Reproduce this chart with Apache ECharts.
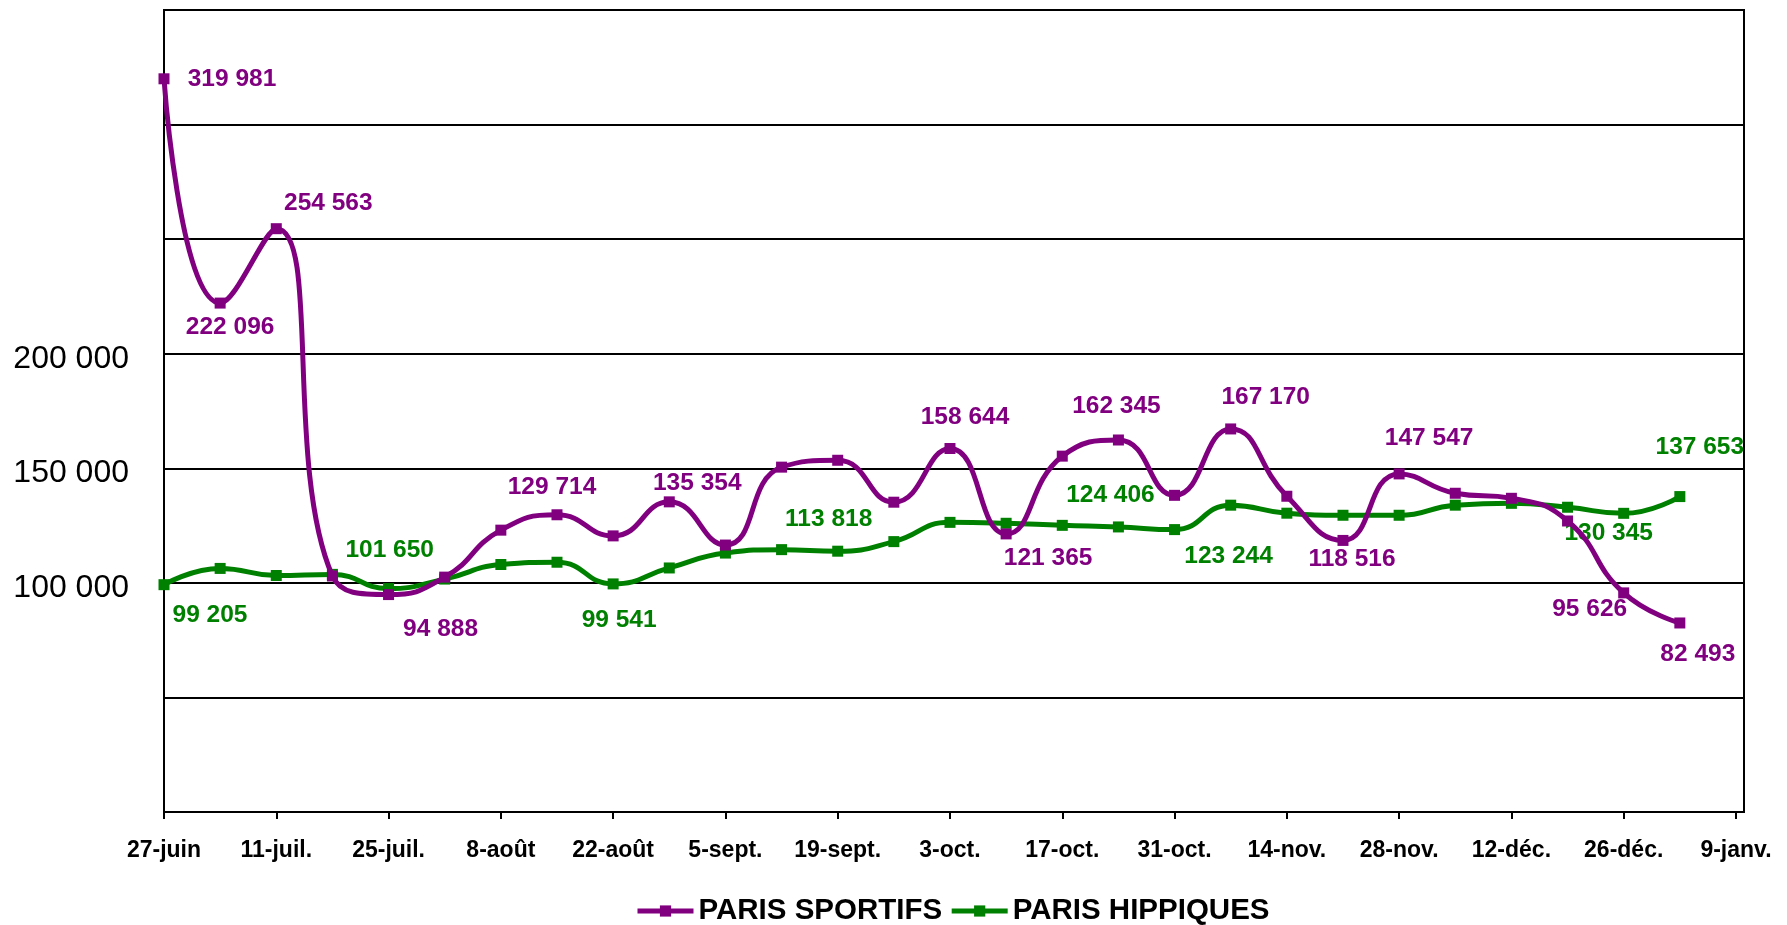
<!DOCTYPE html>
<html><head><meta charset="utf-8">
<script src="https://cdn.jsdelivr.net/npm/echarts@6/dist/echarts.min.js"></script>
<style>html,body{margin:0;padding:0;background:#fff}#c{width:1787px;height:925px}</style>
</head><body><div id="c"></div>
<script>
// Weekly data points
const weekDates = ['2010-06-27','2010-07-04','2010-07-11','2010-07-18','2010-07-25','2010-08-01','2010-08-08','2010-08-15','2010-08-22','2010-08-29','2010-09-05','2010-09-12','2010-09-19','2010-09-26','2010-10-03','2010-10-10','2010-10-17','2010-10-24','2010-10-31','2010-11-07','2010-11-14','2010-11-21','2010-11-28','2010-12-05','2010-12-12','2010-12-19','2010-12-26','2011-01-02'];
const parisSportifs = [319981,222096,254563,103000,94888,102500,123000,129714,120500,135354,116500,150500,153500,135200,158644,121365,155300,162345,138200,167170,137800,118516,147547,139100,136900,127000,95626,82493];
const parisHippiques = [99205,106300,103200,103700,97500,101650,108000,109000,99541,106500,113000,114500,113818,118000,126400,126000,125100,124406,123244,133900,130400,129500,129500,133900,134700,133000,130345,137653];
const xTickLabels = ['27-juin','11-juil.','25-juil.','8-août','22-août','5-sept.','19-sept.','3-oct.','17-oct.','31-oct.','14-nov.','28-nov.','12-déc.','26-déc.','9-janv.'];
const yTickLabels = [100000,150000,200000];
const seriesNames = ['PARIS SPORTIFS','PARIS HIPPIQUES'];

// label placement (pixel offsets from the marker), styling only
const labelPlacement = {
  sportifs: {0:[68,0],1:[10,24],2:[52,-25],4:[52,35],7:[-5,-28],9:[28,-19],14:[15,-31],15:[42,24],17:[-2,-34],19:[35,-32],21:[9,19],22:[30,-36],26:[-34,16],27:[18,31]},
  hippiques: {0:[46,31],5:[-55,-29],8:[6,36],12:[-9,-32],17:[-8,-32],18:[54,27],26:[-15,20],27:[20,-49]}
};

const DAY = 86400000;
const t0 = Date.parse(weekDates[0]);
const dayOf = d => Math.round((Date.parse(d) - t0) / DAY);
const fmt = v => String(v).replace(/\B(?=(\d{3})+(?!\d))/g, ' ');
const tickDays = xTickLabels.map((_, i) => i * 14);

function build(values, placement) {
  return values.map((v, i) => {
    const item = { value: [dayOf(weekDates[i]), v] };
    if (placement[i]) {
      item.label = { show: true, offset: placement[i] };
    }
    return item;
  });
}

const FONT = 'Liberation Sans, Arial';
const chart = echarts.init(document.getElementById('c'), null, {renderer: 'canvas'});
chart.setOption({
  animation: false,
  backgroundColor: '#fff',
  grid: { left: 164, right: 43, top: 10, bottom: 113, show: true, borderColor: '#000', borderWidth: 2, backgroundColor: 'transparent' },
  legend: {
    data: seriesNames,
    left: 630, top: 891,
    itemWidth: 56, itemHeight: 14, itemGap: 7,
    lineStyle: { width: 5 },
    textStyle: { fontFamily: FONT, fontWeight: 'bold', fontSize: 29.5, color: '#000' }
  },
  xAxis: {
    type: 'value', min: 0, max: 197,
    axisLine: { show: true, lineStyle: { color: '#000', width: 2 } },
    axisTick: { show: true, length: 7, lineStyle: { color: '#000', width: 2 }, customValues: tickDays },
    axisLabel: { customValues: tickDays, margin: 27, fontFamily: FONT, fontWeight: 'bold', fontSize: 23, color: '#000',
      formatter: v => xTickLabels[Math.round(v / 14)] || '' },
    splitLine: { show: false }
  },
  yAxis: {
    type: 'value', min: 0, max: 350000, interval: 50000,
    axisLine: { show: true, lineStyle: { color: '#000', width: 2 } },
    axisTick: { show: false },
    axisLabel: { customValues: yTickLabels, margin: 35, fontFamily: FONT, fontSize: 32, color: '#000',
      formatter: v => '{t|' + fmt(v) + '}',
      rich: { t: { fontFamily: FONT, fontSize: 32, color: '#000', padding: [10, 0, 0, 0] } } },
    splitLine: { show: true, lineStyle: { color: '#000', width: 2 } }
  },
  series: [
    {
      name: seriesNames[0], type: 'line', smooth: 0.5,
      data: build(parisSportifs, labelPlacement.sportifs),
      symbol: 'rect', symbolSize: 11,
      lineStyle: { color: '#800080', width: 5 },
      itemStyle: { color: '#800080' },
      label: { show: false, position: 'inside', align: 'center', verticalAlign: 'middle',
        fontFamily: FONT, fontWeight: 'bold', fontSize: 24.5, color: '#800080',
        formatter: p => fmt(p.value[1]) },
      z: 3
    },
    {
      name: seriesNames[1], type: 'line', smooth: 0.5,
      data: build(parisHippiques, labelPlacement.hippiques),
      symbol: 'rect', symbolSize: 11,
      lineStyle: { color: '#008000', width: 5 },
      itemStyle: { color: '#008000' },
      label: { show: false, position: 'inside', align: 'center', verticalAlign: 'middle',
        fontFamily: FONT, fontWeight: 'bold', fontSize: 24.5, color: '#008000',
        formatter: p => fmt(p.value[1]) },
      z: 2
    }
  ]
});
</script></body></html>
